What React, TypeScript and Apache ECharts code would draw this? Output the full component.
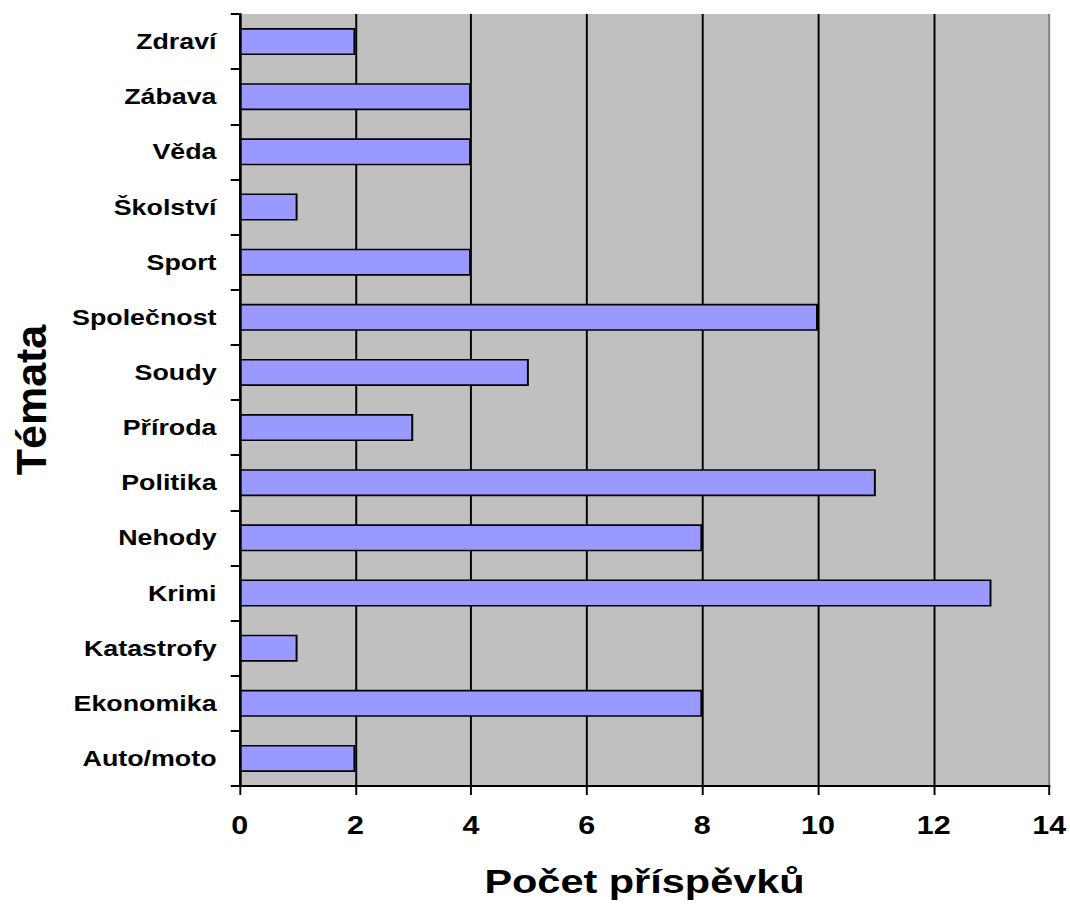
import React, { useEffect, useRef } from "react";
import * as echarts from "echarts";

const categories = [
  "Auto/moto",
  "Ekonomika",
  "Katastrofy",
  "Krimi",
  "Nehody",
  "Politika",
  "Příroda",
  "Soudy",
  "Společnost",
  "Sport",
  "Školství",
  "Věda",
  "Zábava",
  "Zdraví",
];
const values = [2, 8, 1, 13, 8, 11, 3, 5, 10, 4, 1, 4, 4, 2];
const xMin = 0;
const xMax = 14;
const xInterval = 2;
const xTitle = "Počet příspěvků";
const yTitle = "Témata";

const SX = 1.22;
const W = 877;
const H = 912;
const FONT = '"Liberation Sans", Arial, sans-serif';

export default function App() {
  const ref = useRef<HTMLDivElement>(null);
  useEffect(() => {
    if (!ref.current) return;
    const chart = echarts.init(ref.current, null, { renderer: "svg" });
    const nLines = (xMax - xMin) / xInterval + 1;
    const gridLines = Array.from({ length: nLines }, (_, i) =>
      i === nLines - 1 ? "#808080" : "#000000"
    );
    chart.setOption({
      animation: false,
      backgroundColor: "#ffffff",
      textStyle: { fontFamily: FONT },
      grid: {
        left: 196.5,
        right: 14.6,
        top: 14,
        bottom: 126,
        show: true,
        backgroundColor: "#C0C0C0",
        borderWidth: 0,
      },
      graphic: [
        {
          type: "text",
          x: 25,
          y: 400,
          rotation: Math.PI / 2,
          scaleY: 1 / SX,
          style: {
            text: yTitle,
            fontFamily: FONT,
            fontWeight: "bold",
            fontSize: 43,
            fill: "#000",
            align: "center",
            verticalAlign: "middle",
          },
        },
      ],
      xAxis: {
        type: "value",
        min: xMin,
        max: xMax,
        interval: xInterval,
        name: xTitle,
        nameLocation: "middle",
        nameGap: 78,
        nameTextStyle: {
          fontFamily: FONT,
          fontWeight: "bold",
          fontSize: 34,
          color: "#000",
        },
        axisLine: { show: true, lineStyle: { color: "#000", width: 2 } },
        axisTick: { show: true, length: 9, lineStyle: { color: "#000", width: 1.6 } },
        axisLabel: {
          margin: 27,
          fontFamily: FONT,
          fontWeight: "bold",
          fontSize: 25,
          color: "#000",
        },
        splitLine: { show: true, lineStyle: { color: gridLines, width: 1.6 } },
      },
      yAxis: {
        type: "category",
        data: categories,
        axisLine: { show: true, lineStyle: { color: "#000", width: 2 } },
        axisTick: { show: true, length: 7.4, lineStyle: { color: "#000", width: 2 } },
        axisLabel: {
          margin: 19,
          fontFamily: FONT,
          fontWeight: "bold",
          fontSize: 22,
          color: "#000",
        },
        splitLine: { show: false },
      },
      series: [
        {
          type: "bar",
          data: values,
          barCategoryGap: "51%",
          itemStyle: { color: "#9999FF", borderColor: "#000", borderWidth: 1.6 },
        },
      ],
    });
    return () => chart.dispose();
  }, []);
  return (
    <div
      ref={ref}
      style={{
        position: "absolute",
        left: 0,
        top: 0,
        width: W,
        height: H,
        transform: `scaleX(${SX})`,
        transformOrigin: "0 0",
      }}
    />
  );
}
